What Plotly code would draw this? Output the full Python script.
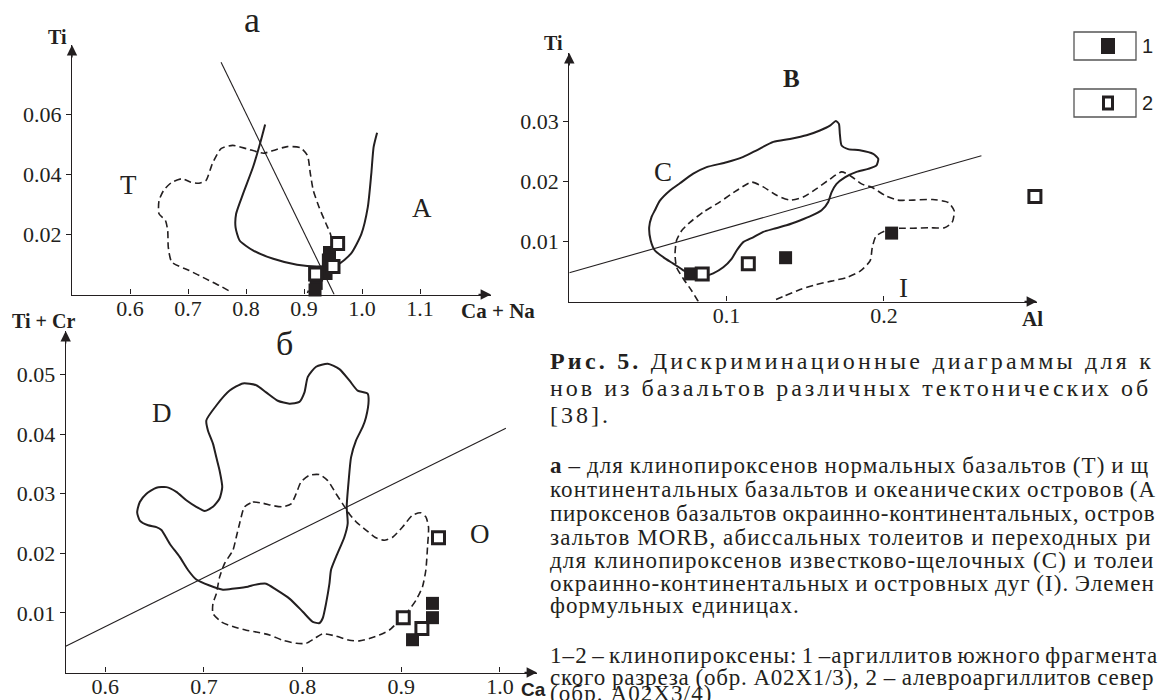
import plotly.graph_objects as go

W, H = 1158, 700
INK = "#231f20"
SERIF = "Liberation Serif, Times New Roman, serif"
SANS = "Liberation Sans, Arial, sans-serif"

# ---------------- panel a : Ti vs Ca+Na ----------------
a_T_x = [0.770, 0.754, 0.731, 0.702, 0.672, 0.666, 0.665, 0.661, 0.650, 0.650, 0.658, 0.672, 0.690,
         0.705, 0.719, 0.731, 0.742, 0.757, 0.777, 0.801, 0.830, 0.847, 0.871, 0.894, 0.906, 0.911,
         0.916, 0.926, 0.938, 0.945, 0.950, 0.935, 0.915, 0.906]
a_T_y = [0.0013, 0.0030, 0.0052, 0.0080, 0.0108, 0.0158, 0.0213, 0.0247, 0.0269, 0.0313, 0.0347,
         0.0374, 0.0386, 0.0374, 0.0371, 0.0380, 0.0436, 0.0486, 0.0497, 0.0486, 0.0471, 0.0480,
         0.0493, 0.0489, 0.0463, 0.0402, 0.0347, 0.0291, 0.0236, 0.0205, 0.0160, 0.0090, 0.0045, 0.0005]
a_A_x = [0.833, 0.824, 0.812, 0.795, 0.783, 0.782, 0.789, 0.812, 0.847, 0.888, 0.923, 0.958, 0.981,
         0.999, 1.010, 1.016, 1.020, 1.026]
a_A_y = [0.0567, 0.0502, 0.0424, 0.0336, 0.0269, 0.0224, 0.0180, 0.0147, 0.0119, 0.0099, 0.0093,
         0.0100, 0.0136, 0.0202, 0.0291, 0.0402, 0.0491, 0.0539]
a_line_x = [0.757, 0.952]
a_line_y = [0.0774, 0.0]
a_s1_x = [0.944, 0.942, 0.938, 0.921, 0.919]
a_s1_y = [0.0140, 0.0115, 0.0070, 0.0037, 0.0015]
a_s2_x = [0.958, 0.950, 0.920]
a_s2_y = [0.0170, 0.0093, 0.0068]

# ---------------- panel б : Ti+Cr vs Ca ----------------
b_D_x = [0.7025, 0.7126, 0.7261, 0.7395, 0.7530, 0.7631, 0.7749, 0.7867, 0.7968, 0.8019, 0.8053,
         0.8137, 0.8255, 0.8373, 0.8474, 0.8558, 0.8659, 0.8669, 0.8642, 0.8609, 0.8541, 0.8491,
         0.8467, 0.8447, 0.8457, 0.8423, 0.8339, 0.8288, 0.8272, 0.8238, 0.8204, 0.8171, 0.8103,
         0.8002, 0.7867, 0.7732, 0.7631, 0.7513, 0.7446, 0.7311, 0.7193, 0.7058, 0.6923, 0.6839,
         0.6755, 0.6654, 0.6570, 0.6519, 0.6435, 0.6351, 0.6324, 0.6351, 0.6418, 0.6519, 0.6620,
         0.6721, 0.6822, 0.6923, 0.7008, 0.7092, 0.7159, 0.7186, 0.7159, 0.7126, 0.7092, 0.7041, 0.7025]
b_D_y = [0.0423, 0.0448, 0.0473, 0.0485, 0.0482, 0.0470, 0.0456, 0.0451, 0.0454, 0.0470, 0.0496,
         0.0513, 0.0518, 0.0509, 0.0490, 0.0473, 0.0468, 0.0456, 0.0428, 0.0412, 0.0389, 0.0361,
         0.0322, 0.0278, 0.0250, 0.0227, 0.0194, 0.0172, 0.0149, 0.0116, 0.0091, 0.0083, 0.0085,
         0.0102, 0.0124, 0.0139, 0.0149, 0.0147, 0.0144, 0.0141, 0.0139, 0.0146, 0.0156, 0.0172,
         0.0194, 0.0216, 0.0239, 0.0244, 0.0247, 0.0255, 0.0269, 0.0286, 0.0300, 0.0310, 0.0311,
         0.0303, 0.0289, 0.0278, 0.0271, 0.0278, 0.0292, 0.0311, 0.0339, 0.0361, 0.0384, 0.0406, 0.0423]
b_O_x = [0.7412, 0.7496, 0.7598, 0.7699, 0.7800, 0.7884, 0.7935, 0.7985, 0.8069, 0.8171, 0.8255,
         0.8339, 0.8406, 0.8474, 0.8541, 0.8642, 0.8744, 0.8828, 0.8912, 0.9013, 0.9114, 0.9198,
         0.9249, 0.9276, 0.9266, 0.9249, 0.9215, 0.9148, 0.9064, 0.8979, 0.8878, 0.8777, 0.8676,
         0.8575, 0.8474, 0.8339, 0.8204, 0.8120, 0.8036, 0.7935, 0.7800, 0.7665, 0.7530, 0.7429,
         0.7294, 0.7176, 0.7092, 0.7092, 0.7126, 0.7159, 0.7210, 0.7294, 0.7328, 0.7362, 0.7412]
b_O_y = [0.0278, 0.0286, 0.0284, 0.0280, 0.0278, 0.0283, 0.0300, 0.0320, 0.0331, 0.0332, 0.0322,
         0.0300, 0.0283, 0.0266, 0.0253, 0.0239, 0.0226, 0.0222, 0.0227, 0.0244, 0.0264, 0.0268,
         0.0261, 0.0244, 0.0211, 0.0172, 0.0144, 0.0121, 0.0102, 0.0087, 0.0071, 0.0063, 0.0057,
         0.0053, 0.0054, 0.0061, 0.0065, 0.0057, 0.0049, 0.0049, 0.0054, 0.0063, 0.0068, 0.0071,
         0.0077, 0.0085, 0.0099, 0.0116, 0.0132, 0.0160, 0.0183, 0.0205, 0.0227, 0.0250, 0.0278]
b_line_x = [0.560, 1.006]
b_line_y = [0.0044, 0.0410]
b_s1_x = [0.9114, 0.9316, 0.9316]
b_s1_y = [0.0055, 0.0092, 0.0116]
b_s2_x = [0.9377, 0.9020, 0.9209]
b_s2_y = [0.0226, 0.0092, 0.0074]

# ---------------- panel в : Ti vs Al ----------------
c_C_x = [0.0544, 0.0576, 0.0640, 0.0703, 0.0788, 0.0873, 0.1000, 0.1106, 0.1191, 0.1297, 0.1403,
         0.1508, 0.1593, 0.1657, 0.1695, 0.1714, 0.1720, 0.1731, 0.1773, 0.1847, 0.1932, 0.1964,
         0.1953, 0.1900, 0.1826, 0.1752, 0.1699, 0.1667, 0.1646, 0.1604, 0.1540, 0.1466, 0.1381,
         0.1297, 0.1233, 0.1169, 0.1106, 0.1064, 0.1032, 0.0979, 0.0915, 0.0852, 0.0788, 0.0725,
         0.0661, 0.0597, 0.0544, 0.0517, 0.0508, 0.0523, 0.0544]
c_C_y = [0.0152, 0.0168, 0.0185, 0.0197, 0.0213, 0.0224, 0.0232, 0.0241, 0.0252, 0.0266, 0.0271,
         0.0277, 0.0285, 0.0293, 0.0301, 0.0296, 0.0279, 0.0260, 0.0254, 0.0252, 0.0246, 0.0238,
         0.0227, 0.0221, 0.0216, 0.0207, 0.0196, 0.0182, 0.0166, 0.0152, 0.0143, 0.0135, 0.0127,
         0.0121, 0.0116, 0.0107, 0.0099, 0.0085, 0.0071, 0.0057, 0.0047, 0.0042, 0.0043, 0.0052,
         0.0063, 0.0074, 0.0085, 0.0102, 0.0124, 0.0141, 0.0152]
c_I_x = [0.0820, 0.0778, 0.0725, 0.0682, 0.0672, 0.0682, 0.0714, 0.0767, 0.0852, 0.0958, 0.1064,
         0.1159, 0.1233, 0.1318, 0.1403, 0.1487, 0.1572, 0.1657, 0.1731, 0.1784, 0.1858, 0.1926,
         0.2012, 0.2087, 0.2186, 0.2310, 0.2409, 0.2447, 0.2434, 0.2385, 0.2285, 0.2186, 0.2099,
         0.2012, 0.1950, 0.1926, 0.1913, 0.1851, 0.1764, 0.1665, 0.1566, 0.1467, 0.1367, 0.1293]
c_I_y = [0.0000, 0.0018, 0.0038, 0.0057, 0.0079, 0.0102, 0.0118, 0.0132, 0.0149, 0.0166, 0.0185,
         0.0199, 0.0191, 0.0177, 0.0169, 0.0174, 0.0188, 0.0204, 0.0216, 0.0210, 0.0196, 0.0190,
         0.0176, 0.0169, 0.0169, 0.0170, 0.0165, 0.0151, 0.0132, 0.0123, 0.0123, 0.0122, 0.0122,
         0.0118, 0.0109, 0.0090, 0.0068, 0.0051, 0.0040, 0.0034, 0.0028, 0.0020, 0.0009, 0.0001]
c_line_x = [0.0, 0.262]
c_line_y = [0.0048, 0.0243]
c_s1_x = [0.0771, 0.1375, 0.2049]
c_s1_y = [0.0046, 0.0073, 0.0114]
c_s2_x = [0.0845, 0.1138, 0.2960]
c_s2_y = [0.0046, 0.0063, 0.0175]

legend_labels = ["1", "2"]

# caption: (text, centre y px, letter-spacing px, word-spacing px)
caption_title = [
    ("<b>Рис. 5.</b> Дискриминационные диаграммы для к", 361, 3.2, 0),
    ("нов из базальтов различных тектонических об", 388, 3.0, 0),
    ("[38].", 415, 3.0, 0),
]
caption_body = [
    ("<b>а</b> – для клинопироксенов нормальных базальтов (Т) и щ", 465, 1.1, -1.0),
    ("континентальных базальтов и океанических островов (А", 489, 1.1, -1.5),
    ("пироксенов базальтов окраинно-континентальных, остров", 513, 0.7, -1.0),
    ("зальтов MORB, абиссальных толеитов и переходных ри", 537, 1.1, 0),
    ("для клинопироксенов известково-щелочных (С) и толеи", 560, 1.1, 0),
    ("окраинно-континентальных и островных дуг (I). Элемен", 583, 1.1, -1.5),
    ("формульных единицах.", 605, 1.1, 0),
    ("1–2 – клинопироксены: 1 –аргиллитов южного фрагмента", 655, 1.1, -2.5),
    ("ского разреза (обр. A02X1/3), 2 – алевроаргиллитов север", 677, 0.8, -0.7),
    ("(обр. A02X3/4)", 693, 1.1, 0),
]


def dx(p0, p1):
    return [p0 / W, p1 / W]


def dy(top, bottom):
    return [1 - bottom / H, 1 - top / H]


fig = go.Figure()
panels = [("x", "y"), ("x2", "y2"), ("x3", "y3")]


def add_curve(xs, ys, ax, dash=None, width=2.0):
    fig.add_trace(go.Scatter(x=xs, y=ys, xaxis=ax[0], yaxis=ax[1], mode="lines",
                             line=dict(color=INK, width=width, dash=dash, shape="spline", smoothing=0.6),
                             hoverinfo="skip", showlegend=False))


def add_line(xs, ys, ax):
    fig.add_trace(go.Scatter(x=xs, y=ys, xaxis=ax[0], yaxis=ax[1], mode="lines",
                             line=dict(color=INK, width=1.1), hoverinfo="skip", showlegend=False))


def add_pts(xs, ys, ax, filled):
    if filled:
        m = dict(symbol="square", size=13, color=INK, line=dict(width=0))
    else:
        m = dict(symbol="square", size=12, color="white", line=dict(width=3, color=INK))
    fig.add_trace(go.Scatter(x=xs, y=ys, xaxis=ax[0], yaxis=ax[1], mode="markers", marker=m,
                             cliponaxis=False, hoverinfo="skip", showlegend=False))


DASH = "7px,4px"
add_curve(a_T_x, a_T_y, panels[0], dash=DASH, width=1.6)
add_curve(a_A_x, a_A_y, panels[0], width=2.0)
add_line(a_line_x, a_line_y, panels[0])
add_pts(a_s1_x, a_s1_y, panels[0], True)
add_pts(a_s2_x, a_s2_y, panels[0], False)

add_curve(b_D_x, b_D_y, panels[1], width=2.0)
add_curve(b_O_x, b_O_y, panels[1], dash=DASH, width=1.6)
add_line(b_line_x, b_line_y, panels[1])
add_pts(b_s2_x, b_s2_y, panels[1], False)
add_pts(b_s1_x, b_s1_y, panels[1], True)

add_curve(c_C_x, c_C_y, panels[2], width=2.0)
add_curve(c_I_x, c_I_y, panels[2], dash=DASH, width=1.6)
add_line(c_line_x, c_line_y, panels[2])
add_pts(c_s1_x, c_s1_y, panels[2], True)
add_pts(c_s2_x, c_s2_y, panels[2], False)

tickfont = dict(family=SERIF, size=22, color=INK)


def xaxis(domain, rng, vals):
    return dict(domain=domain, range=rng, tickvals=vals, ticktext=[f"{v:.1f}" for v in vals],
                showline=True, linecolor=INK, linewidth=1.3, ticks="inside", ticklen=5,
                tickcolor=INK, tickwidth=1.1, tickfont=tickfont, ticklabelstandoff=-6,
                showgrid=False, zeroline=False, fixedrange=True)


def yaxis(domain, rng, vals, fmt):
    return dict(domain=domain, range=rng, tickvals=vals, ticktext=[fmt.format(v) for v in vals],
                showline=True, linecolor=INK, linewidth=1.3, ticks="outside", ticklen=5,
                tickcolor=INK, tickwidth=1.1, tickfont=tickfont, showgrid=False, zeroline=False,
                fixedrange=True)


fig.update_layout(
    width=W, height=H, margin=dict(l=0, r=0, t=0, b=0),
    paper_bgcolor="white", plot_bgcolor="rgba(0,0,0,0)", showlegend=False,
    xaxis=xaxis(dx(72, 491), [0.5, 0.5 + 419 / 580], [0.6, 0.7, 0.8, 0.9, 1.0, 1.1]),
    yaxis=yaxis(dy(45, 294.5), [0, 249.5 / 3000], [0.02, 0.04, 0.06], "{:.2f}"),
    xaxis2=dict(xaxis(dx(65.7, 537), [0.56, 0.56 + 471.3 / 987], [0.6, 0.7, 0.8, 0.9, 1.0]), anchor="y2"),
    yaxis2=dict(yaxis(dy(331, 672.5), [0, 341.5 / 5960], [0.01, 0.02, 0.03, 0.04, 0.05], "{:.2f}"), anchor="x2"),
    xaxis3=dict(xaxis(dx(569.3, 1037), [0, 467.7 / 1573], [0.1, 0.2]), anchor="y3"),
    yaxis3=dict(yaxis(dy(53, 301.5), [0, 248.5 / 6000], [0.01, 0.02, 0.03], "{:.2f}"), anchor="x3"),
)

ann = []
for xa, ya in panels:
    ann.append(dict(x=1, y=0, xref=f"{xa} domain", yref=f"{ya} domain", ax=-14, ay=0, text="",
                    showarrow=True, arrowhead=2, arrowsize=1.6, arrowwidth=1.3, arrowcolor=INK))
    ann.append(dict(x=0, y=1, xref=f"{xa} domain", yref=f"{ya} domain", ax=0, ay=14, text="",
                    showarrow=True, arrowhead=2, arrowsize=1.6, arrowwidth=1.3, arrowcolor=INK))


def ptxt(text, px, py, size, bold=False, family=SERIF, xanchor="center"):
    t = f"<b>{text}</b>" if bold else text
    return dict(x=px / W, y=1 - py / H, xref="paper", yref="paper", text=t, showarrow=False,
                xanchor=xanchor, yanchor="middle", font=dict(family=family, size=size, color=INK))


def dtxt(text, x, y, xa, ya, size, bold=False):
    t = f"<b>{text}</b>" if bold else text
    return dict(x=x, y=y, xref=xa, yref=ya, text=t, showarrow=False, xanchor="center",
                yanchor="middle", font=dict(family=SERIF, size=size, color=INK))


ann += [
    ptxt("а", 252, 20, 36),
    ptxt("Ti", 57, 37, 20, bold=True),
    ptxt("Ca + Na", 498, 311, 21, bold=True),
    ptxt("б", 284, 343, 34),
    ptxt("Ti + Cr", 43, 321, 20, bold=True),
    ptxt("Ca", 533, 689, 19, bold=True, family=SANS),
    ptxt("Ti", 553, 43, 20, bold=True),
    ptxt("Al", 1032, 319, 21, bold=True),
]
ann += [
    dtxt("T", 0.598, 0.0365, "x", "y", 27),
    dtxt("A", 1.104, 0.0288, "x", "y", 27),
    dtxt("D", 0.6576, 0.0435, "x2", "y2", 27),
    dtxt("O", 0.9796, 0.0233, "x2", "y2", 27),
    dtxt("B", 0.1413, 0.0371, "x3", "y3", 25, bold=True),
    dtxt("C", 0.0593, 0.0216, "x3", "y3", 27),
    dtxt("I", 0.2124, 0.0023, "x3", "y3", 27),
]

shapes = []
for i, (lab, yc) in enumerate(zip(legend_labels, [46, 103])):
    shapes.append(dict(type="rect", xref="paper", yref="paper", x0=1074 / W, x1=1136 / W,
                       y0=1 - (yc + 14) / H, y1=1 - (yc - 14) / H,
                       line=dict(color="#555555", width=1.3), fillcolor="white"))
    if i == 0:
        shapes.append(dict(type="rect", xref="paper", yref="paper", x0=1101 / W, x1=1115 / W,
                           y0=1 - (yc + 8) / H, y1=1 - (yc - 8) / H,
                           line=dict(width=0), fillcolor=INK))
    else:
        shapes.append(dict(type="rect", xref="paper", yref="paper", x0=1103.5 / W, x1=1112.5 / W,
                           y0=1 - (yc + 6) / H, y1=1 - (yc - 6) / H,
                           line=dict(color=INK, width=3), fillcolor="white"))
    ann.append(ptxt(lab, 1147, yc, 20, family=SANS))


def cap(text, yy, ls, ws, size):
    return dict(x=548 / W, y=1 - yy / H, xref="paper", yref="paper", xanchor="left",
                yanchor="middle", showarrow=False,
                text=f'<span style="letter-spacing:{ls}px;word-spacing:{ws}px">{text}</span>',
                font=dict(family=SERIF, size=size, color=INK))


for t, yy, ls, ws in caption_title:
    ann.append(cap(t, yy, ls, ws, 24))
for t, yy, ls, ws in caption_body:
    ann.append(cap(t, yy, ls, ws, 23))

fig.update_layout(annotations=ann, shapes=shapes)
fig.write_html("out.html", config={"displayModeBar": False},
               post_script="document.body.style.margin='0';document.body.style.overflow='hidden';")
